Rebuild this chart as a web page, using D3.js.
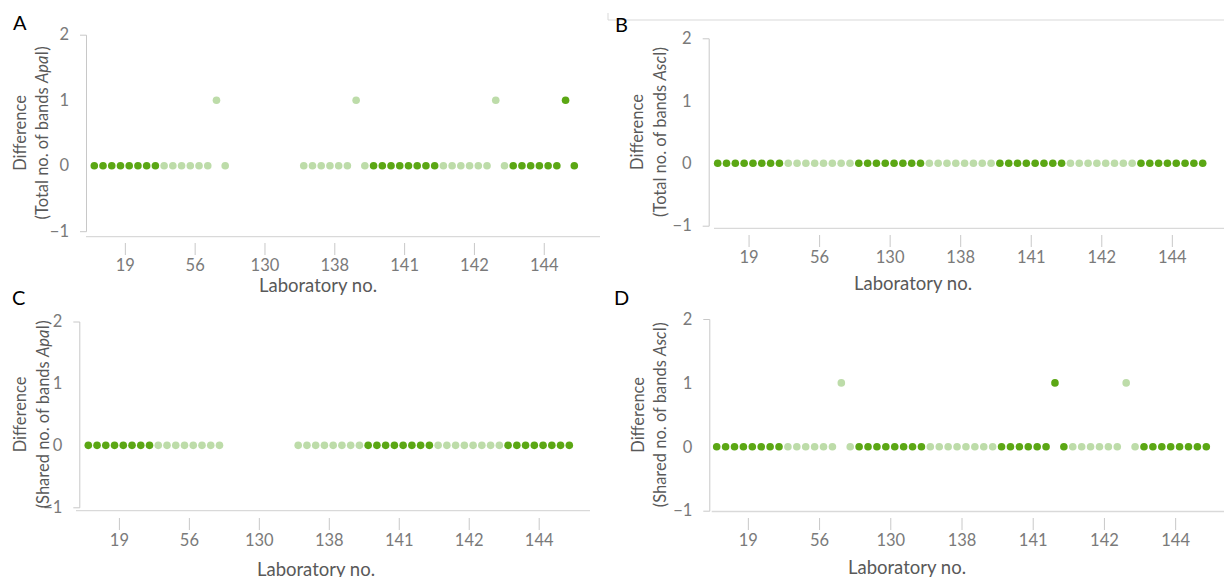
<!DOCTYPE html>
<html>
<head>
<meta charset="utf-8">
<script src="https://cdn.jsdelivr.net/npm/d3@7"></script>
<style>
  body { margin: 0; background: #fff; }
  svg { display: block; font-family: Lato, "Open Sans", sans-serif; }
</style>
</head>
<body>
<script>
// laboratories (8 samples each)
const labs = ["19", "56", "130", "138", "141", "142", "144"];
const yTicks = [-1, 0, 1, 2];

// differences per laboratory, null = not tested
const totalApaI = [
  [0, 0, 0, 0, 0, 0, 0, 0],
  [0, 0, 0, 0, 0, 0, 1, 0],
  [null, null, null, null, null, null, null, null],
  [0, 0, 0, 0, 0, 0, 1, 0],
  [0, 0, 0, 0, 0, 0, 0, 0],
  [0, 0, 0, 0, 0, 0, 1, 0],
  [0, 0, 0, 0, 0, 0, 1, 0]
];
const totalAscI = [
  [0, 0, 0, 0, 0, 0, 0, 0],
  [0, 0, 0, 0, 0, 0, 0, 0],
  [0, 0, 0, 0, 0, 0, 0, 0],
  [0, 0, 0, 0, 0, 0, 0, 0],
  [0, 0, 0, 0, 0, 0, 0, 0],
  [0, 0, 0, 0, 0, 0, 0, 0],
  [0, 0, 0, 0, 0, 0, 0, 0]
];
const sharedApaI = [
  [0, 0, 0, 0, 0, 0, 0, 0],
  [0, 0, 0, 0, 0, 0, 0, 0],
  [null, null, null, null, null, null, null, null],
  [0, 0, 0, 0, 0, 0, 0, 0],
  [0, 0, 0, 0, 0, 0, 0, 0],
  [0, 0, 0, 0, 0, 0, 0, 0],
  [0, 0, 0, 0, 0, 0, 0, 0]
];
const sharedAscI = [
  [0, 0, 0, 0, 0, 0, 0, 0],
  [0, 0, 0, 0, 0, 0, 1, 0],
  [0, 0, 0, 0, 0, 0, 0, 0],
  [0, 0, 0, 0, 0, 0, 0, 0],
  [0, 0, 0, 0, 0, 0, 1, 0],
  [0, 0, 0, 0, 0, 0, 1, 0],
  [0, 0, 0, 0, 0, 0, 0, 0]
];

const width = 1224, height = 577;
const dark = "#5ba714", light = "#bddca9";

// panel layout
const panels = [
  { letter: "A", values: totalApaI, kind: "Total", enzyme: "Apa",
    lx: 13, ly: 30, x0: 94.3, x55: 574.3, left: 86, axL: 86, axR: 600,
    yTop: 34.7, yBot: 231.2, axY: 236.7, tickY: 243, titleX: 318, titleY: 292, t1: 26, t2: 48 },
  { letter: "B", values: totalAscI, kind: "Total", enzyme: "Asc",
    lx: 615, ly: 32, x0: 717.7, x55: 1202.7, left: 708.7, axL: 714, axR: 1224,
    yTop: 38.3, yBot: 225.7, axY: 228.3, tickY: 235, titleX: 913, titleY: 290, t1: 643, t2: 666 },
  { letter: "C", values: sharedApaI, kind: "Shared", enzyme: "Apa",
    lx: 12, ly: 305, x0: 88.3, x55: 569.3, left: 79.3, axL: 76, axR: 590,
    yTop: 321.5, yBot: 507.3, axY: 510.7, tickY: 518, titleX: 316, titleY: 576, t1: 26, t2: 49 },
  { letter: "D", values: sharedAscI, kind: "Shared", enzyme: "Asc",
    lx: 614, ly: 305, x0: 716.7, x55: 1206.3, left: 709.3, axL: 711.7, axR: 1224,
    yTop: 319, yBot: 510.7, axY: 511.5, tickY: 518, titleX: 907, titleY: 574, t1: 644, t2: 666 }
];

const svg = d3.select("body").append("svg")
  .attr("width", width).attr("height", height);

svg.append("rect").attr("width", width).attr("height", height).attr("fill", "#fff");

// frame line above panel B
svg.append("path")
  .attr("d", "M608,13V20H1224")
  .attr("fill", "none").attr("stroke", "#d9d9d9");

panels.forEach(function (p) {
  const n = labs.length * 8;
  const x = d3.scaleLinear().domain([0, n - 1]).range([p.x0, p.x55]);
  const y = d3.scaleLinear().domain([-1, 2]).range([p.yBot, p.yTop]);

  const g = svg.append("g");

  // panel letter
  g.append("text")
    .attr("x", p.lx).attr("y", p.ly)
    .attr("font-size", 20).attr("fill", "#000")
    .text(p.letter);

  // y axis
  const yAxis = g.append("g")
    .attr("transform", "translate(" + p.left + ",0)")
    .call(d3.axisLeft(y).tickValues(yTicks).tickFormat(d3.format("d"))
      .tickSizeInner(0).tickSizeOuter(6).tickPadding(17));
  yAxis.select(".domain").attr("stroke", "#c8c8c8");
  yAxis.selectAll("text").attr("font-size", 16.5).attr("fill", "#7a7a7a")
    .attr("font-family", "Lato, sans-serif");

  // x axis line
  g.append("line")
    .attr("x1", p.axL).attr("x2", p.axR)
    .attr("y1", p.axY).attr("y2", p.axY)
    .attr("stroke", "#d9d9d9").attr("stroke-width", 1.3);

  // x ticks under the line
  const xAxis = g.append("g")
    .attr("transform", "translate(0," + p.tickY + ")")
    .call(d3.axisBottom(x)
      .tickValues(labs.map(function (d, i) { return i * 8 + 3.5; }))
      .tickFormat(function (d, i) { return labs[i]; })
      .tickSize(12).tickPadding(4));
  xAxis.select(".domain").remove();
  xAxis.selectAll("line").attr("stroke", "#c8c8c8");
  xAxis.selectAll("text").attr("font-size", 16.5).attr("fill", "#7a7a7a")
    .attr("font-family", "Lato, sans-serif");

  // x title
  g.append("text")
    .attr("x", p.titleX).attr("y", p.titleY)
    .attr("text-anchor", "middle")
    .attr("font-size", 18.5).attr("fill", "#595959")
    .text("Laboratory no.");

  // y title (two lines)
  const cy = (p.yTop + p.yBot) / 2;
  g.append("text")
    .attr("transform", "translate(" + p.t1 + "," + cy + ") rotate(-90)")
    .attr("text-anchor", "middle")
    .attr("font-size", 16.5).attr("fill", "#595959")
    .text("Difference");
  const t2 = g.append("text")
    .attr("transform", "translate(" + p.t2 + "," + cy + ") rotate(-90)")
    .attr("text-anchor", "middle")
    .attr("font-size", 16.5).attr("fill", "#595959");
  t2.append("tspan").text("(" + p.kind + " no. of bands ");
  t2.append("tspan").attr("font-style", "italic").text(p.enzyme);
  t2.append("tspan").text("I)");

  // points
  const pts = [];
  p.values.forEach(function (row, gi) {
    row.forEach(function (v, k) {
      if (v !== null) pts.push({ i: gi * 8 + k, g: gi, v: v });
    });
  });
  g.selectAll("circle")
    .data(pts)
    .enter()
    .append("circle")
    .attr("cx", function (d) { return x(d.i); })
    .attr("cy", function (d) { return y(d.v); })
    .attr("r", 3.8)
    .attr("fill", function (d) { return d.g % 2 === 0 ? dark : light; });
});
</script>
</body>
</html>
